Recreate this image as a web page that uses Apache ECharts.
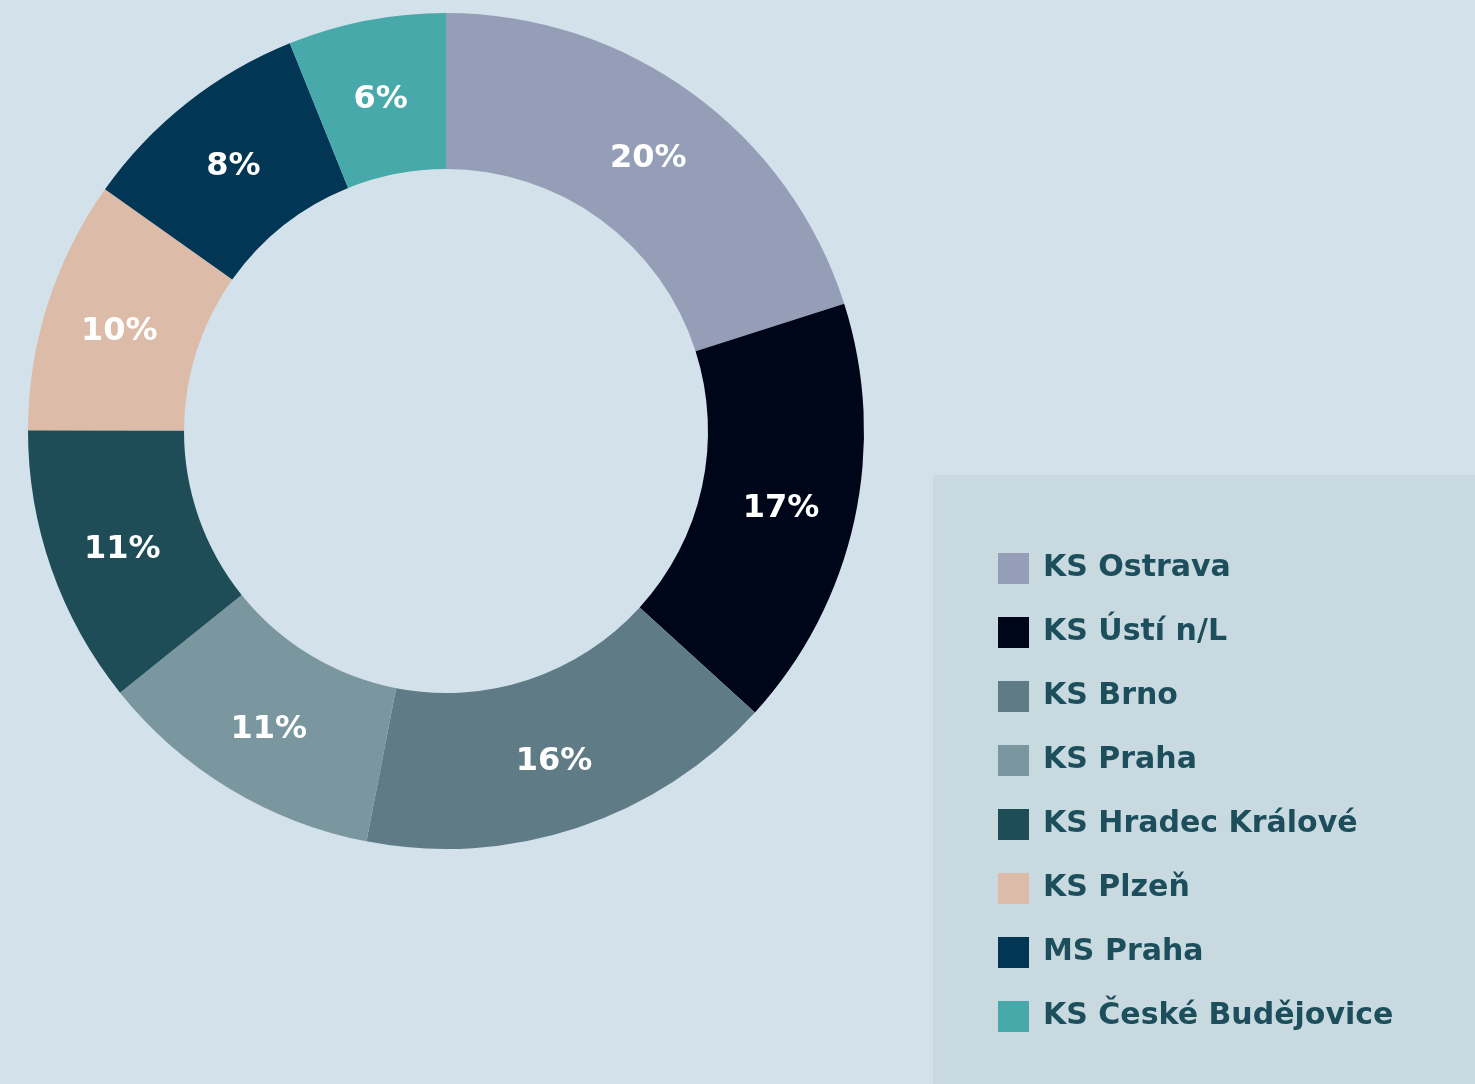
<!DOCTYPE html>
<html>
<head>
<meta charset="utf-8">
<title>Podíl soudů</title>
<script src="https://cdn.jsdelivr.net/npm/echarts@6/dist/echarts.min.js"></script>
<style>
    html, body { margin: 0; padding: 0; background: #d3e1eb; }
    #main { width: 1475px; height: 1084px; }
</style>
</head>
<body>
<div id="main"></div>
<script>
// 数据
var courts = ['KS Ostrava', 'KS Ústí n/L', 'KS Brno', 'KS Praha', 'KS Hradec Králové', 'KS Plzeň', 'MS Praha', 'KS České Budějovice'];
var shares = [20.1, 16.7, 16.3, 11.2, 10.8, 9.8, 9.1, 6.1];       // velikost výsečí
var pctLabels = ['20%', '17%', '16%', '11%', '11%', '10%', '8%', '6%']; // popisky jak jsou v grafu
var colors = ['#949fb7', '#00061a', '#5f7c86', '#7a969e', '#1e4d58', '#dcbba8', '#013754', '#47a9a9'];

var myChart = echarts.init(document.getElementById('main'));

var pieData = courts.map(function (name, i) {
    return {name: name, value: shares[i], itemStyle: {color: colors[i]}};
});

option = {
    backgroundColor: '#d3e1eb',
    animation: false,
    graphic: [
        {
            type: 'rect',
            z: 0,
            shape: {x: 933, y: 475, width: 542, height: 609},
            style: {fill: '#c8d9e0'}
        }
    ],
    legend: {
        orient: 'vertical',
        left: 998,
        top: 553,
        padding: 0,
        itemWidth: 31,
        itemHeight: 31,
        itemGap: 33,
        icon: 'rect',
        selectedMode: false,
        data: courts,
        textStyle: {
            fontFamily: 'DejaVu Sans',
            fontWeight: 'bold',
            fontSize: 30,
            color: '#1d4e5b',
            padding: [0, 0, 0, 9]
        }
    },
    series: [
        {
            type: 'pie',
            center: [446, 431],
            radius: [262, 418],
            startAngle: 90,
            clockwise: true,
            avoidLabelOverlap: false,
            label: {
                show: true,
                position: 'inside',
                color: '#ffffff',
                fontFamily: 'DejaVu Sans',
                fontWeight: 'bold',
                fontSize: 32,
                offset: [0, 5],
                formatter: function (p) {
                    return pctLabels[p.dataIndex];
                }
            },
            labelLine: {show: false},
            emphasis: {disabled: true},
            data: pieData
        }
    ]
};

myChart.setOption(option);
</script>
</body>
</html>
